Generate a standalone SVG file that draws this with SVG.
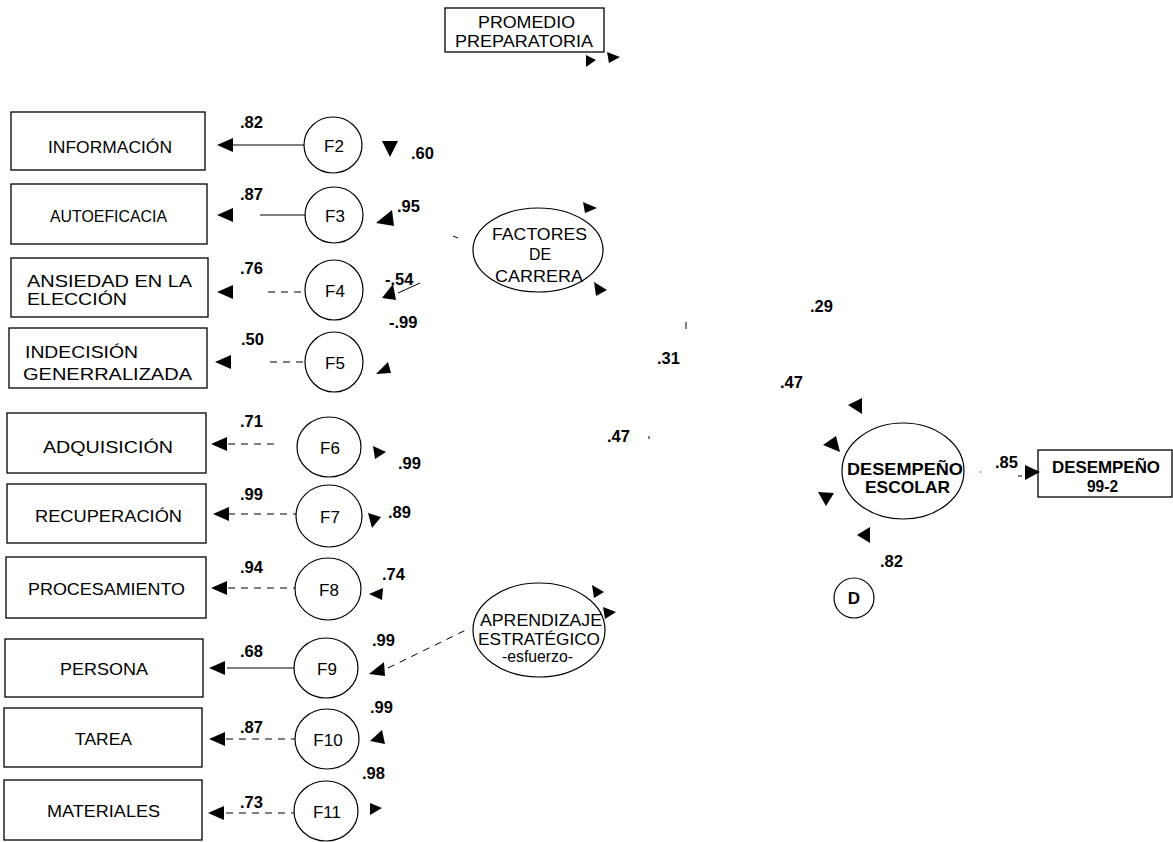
<svg xmlns="http://www.w3.org/2000/svg" width="1173" height="842" viewBox="0 0 1173 842">
<style>
.box{fill:#fff;stroke:#000;stroke-width:1.3}
.lat{fill:#fff;stroke:#000;stroke-width:1.2}
.t{font-family:"Liberation Sans",Arial,sans-serif;font-size:16.5px;fill:#000}
.tb{font-family:"Liberation Sans",Arial,sans-serif;font-size:17px;font-weight:bold;fill:#000}
.f{font-family:"Liberation Sans",Arial,sans-serif;font-size:17px;fill:#000}
.n{font-family:"Liberation Sans",Arial,sans-serif;font-size:16.5px;font-weight:bold;fill:#000}
.ln{stroke:#000;stroke-width:1;fill:none}
.dl{stroke:#000;stroke-width:1;fill:none;stroke-dasharray:7 6}
.ah{fill:#000}
</style>
<rect width="1173" height="842" fill="#fff"/>

<g id="promedio">
<rect class="box" x="445" y="8" width="159" height="44"/>
<text class="t" x="478" y="28" textLength="97" lengthAdjust="spacingAndGlyphs">PROMEDIO</text>
<text class="t" x="455" y="47" textLength="138" lengthAdjust="spacingAndGlyphs">PREPARATORIA</text>
</g>

<g id="informacion"><rect class="box" x="11" y="112" width="194" height="58"/><text class="t" x="48" y="153" textLength="124" lengthAdjust="spacingAndGlyphs">INFORMACIÓN</text></g>
<g id="autoeficacia"><rect class="box" x="11" y="184" width="196" height="60"/><text class="t" x="50" y="222" textLength="117" lengthAdjust="spacingAndGlyphs">AUTOEFICACIA</text></g>
<g id="ansiedad"><rect class="box" x="11" y="258" width="197" height="59"/><text class="t" x="27" y="287" font-size="19" textLength="165" lengthAdjust="spacingAndGlyphs">ANSIEDAD EN LA</text><text class="t" x="27" y="305" font-size="19" textLength="100" lengthAdjust="spacingAndGlyphs">ELECCIÓN</text></g>
<g id="indecision"><rect class="box" x="9" y="328" width="198" height="60"/><text class="t" x="25" y="358" font-size="19" textLength="113" lengthAdjust="spacingAndGlyphs">INDECISIÓN</text><text class="t" x="23" y="380" font-size="19" textLength="169" lengthAdjust="spacingAndGlyphs">GENERRALIZADA</text></g>
<g id="adquisicion"><rect class="box" x="7" y="413" width="199" height="60"/><text class="t" x="43" y="453" font-size="17.5" textLength="130" lengthAdjust="spacingAndGlyphs">ADQUISICIÓN</text></g>
<g id="recuperacion"><rect class="box" x="7" y="484" width="199" height="59"/><text class="t" x="35" y="522" textLength="147" lengthAdjust="spacingAndGlyphs">RECUPERACIÓN</text></g>
<g id="procesamiento"><rect class="box" x="6" y="557" width="200" height="61"/><text class="t" x="28" y="595" textLength="157" lengthAdjust="spacingAndGlyphs">PROCESAMIENTO</text></g>
<g id="persona"><rect class="box" x="5" y="639" width="198" height="58"/><text class="t" x="60" y="675" textLength="88" lengthAdjust="spacingAndGlyphs">PERSONA</text></g>
<g id="tarea"><rect class="box" x="4" y="708" width="198" height="59"/><text class="t" x="75" y="745" textLength="57" lengthAdjust="spacingAndGlyphs">TAREA</text></g>
<g id="materiales"><rect class="box" x="4" y="780" width="198" height="60"/><text class="t" x="47" y="817" textLength="113" lengthAdjust="spacingAndGlyphs">MATERIALES</text></g>

<g id="F2"><ellipse class="lat" cx="333" cy="145" rx="29" ry="28"/><text class="f" x="334" y="152" text-anchor="middle">F2</text></g>
<g id="F3"><ellipse class="lat" cx="334" cy="215" rx="29" ry="28"/><text class="f" x="335" y="222" text-anchor="middle">F3</text></g>
<g id="F4"><ellipse class="lat" cx="334" cy="290" rx="29" ry="30"/><text class="f" x="335" y="297" text-anchor="middle">F4</text></g>
<g id="F5"><ellipse class="lat" cx="334" cy="362" rx="29" ry="30"/><text class="f" x="335" y="369" text-anchor="middle">F5</text></g>
<g id="F6"><ellipse class="lat" cx="329" cy="447" rx="32" ry="30"/><text class="f" x="330" y="454" text-anchor="middle">F6</text></g>
<g id="F7"><ellipse class="lat" cx="329" cy="516" rx="33" ry="31"/><text class="f" x="330" y="523" text-anchor="middle">F7</text></g>
<g id="F8"><ellipse class="lat" cx="328" cy="589" rx="33" ry="31"/><text class="f" x="329" y="596" text-anchor="middle">F8</text></g>
<g id="F9"><ellipse class="lat" cx="326" cy="668" rx="32" ry="30"/><text class="f" x="327" y="675" text-anchor="middle">F9</text></g>
<g id="F10"><ellipse class="lat" cx="327" cy="739" rx="32" ry="30"/><text class="f" x="328" y="746" text-anchor="middle">F10</text></g>
<g id="F11"><ellipse class="lat" cx="326" cy="811" rx="32" ry="30"/><text class="f" x="327" y="818" text-anchor="middle">F11</text></g>

<g id="factores"><ellipse class="lat" cx="538" cy="250" rx="65" ry="42"/>
<text class="t" x="492" y="240" font-size="17.5" textLength="95" lengthAdjust="spacingAndGlyphs">FACTORES</text>
<text class="t" x="529" y="260" font-size="17.5" textLength="22" lengthAdjust="spacingAndGlyphs">DE</text>
<text class="t" x="495" y="282" font-size="17.5" textLength="88" lengthAdjust="spacingAndGlyphs">CARRERA</text></g>

<g id="aprendizaje"><ellipse class="lat" cx="539" cy="630" rx="66" ry="47"/>
<text class="t" x="480" y="626" textLength="122" lengthAdjust="spacingAndGlyphs">APRENDIZAJE</text>
<text class="t" x="478" y="645" textLength="122" lengthAdjust="spacingAndGlyphs">ESTRATÉGICO</text>
<text class="t" x="502" y="662" font-size="13" textLength="71" lengthAdjust="spacingAndGlyphs">-esfuerzo-</text></g>

<g id="desempeno"><ellipse class="lat" cx="903" cy="471" rx="61" ry="48"/>
<text class="tb" x="847" y="475" textLength="116" lengthAdjust="spacingAndGlyphs">DESEMPEÑO</text>
<text class="tb" x="865" y="493" textLength="85" lengthAdjust="spacingAndGlyphs">ESCOLAR</text></g>

<g id="D"><ellipse class="lat" cx="854" cy="598" rx="20" ry="20"/><text class="tb" x="854" y="604" text-anchor="middle">D</text></g>

<g id="desempeno992"><rect class="box" x="1038" y="450" width="134" height="47"/>
<text class="tb" x="1052" y="473" textLength="108" lengthAdjust="spacingAndGlyphs">DESEMPEÑO</text>
<text class="tb" x="1087" y="492" textLength="31" lengthAdjust="spacingAndGlyphs">99-2</text></g>

<g id="connectors">
<line class="ln" x1="233" y1="145" x2="304" y2="145"/>
<line class="ln" x1="260" y1="215" x2="305" y2="215"/>
<line class="dl" x1="268" y1="292" x2="305" y2="292"/>
<line class="dl" x1="270" y1="362" x2="305" y2="362"/>
<line class="dl" x1="228" y1="444" x2="275" y2="444"/>
<line class="dl" x1="228" y1="514" x2="296" y2="514"/>
<line class="dl" x1="228" y1="588" x2="295" y2="588"/>
<line class="ln" x1="227" y1="668" x2="294" y2="668"/>
<line class="dl" x1="226" y1="739" x2="295" y2="739"/>
<line class="dl" x1="226" y1="813" x2="294" y2="813"/>
<line class="dl" x1="388" y1="668" x2="470" y2="628"/>
<line class="ln" x1="398" y1="293" x2="420" y2="283"/>
<line class="ln" x1="453" y1="236" x2="458" y2="238"/>
<line class="ln" x1="686" y1="322" x2="686" y2="329"/>
<line class="ln" x1="649" y1="436" x2="649" y2="439"/>
<line class="ln" x1="980" y1="472" x2="981" y2="472"/>
<line class="ln" x1="1018" y1="476" x2="1022" y2="476"/>

<polygon class="ah" points="217,145 233,138 233,152"/>
<polygon class="ah" points="217,215 233,208 233,222"/>
<polygon class="ah" points="217,292 233,285 233,299"/>
<polygon class="ah" points="215,362 231,355 231,369"/>
<polygon class="ah" points="211,444 227,437 227,451"/>
<polygon class="ah" points="213,514 229,507 229,521"/>
<polygon class="ah" points="211,588 227,581 227,595"/>
<polygon class="ah" points="209,668 225,661 225,675"/>
<polygon class="ah" points="209,739 225,732 225,746"/>
<polygon class="ah" points="208,813 224,806 224,820"/>

<polygon class="ah" points="382,141 398,141 390,157"/>
<polygon class="ah" points="376,223 392,210 394,226"/>
<polygon class="ah" points="382,298 393,284 396,300"/>
<polygon class="ah" points="376,374 388,362 391,373"/>
<polygon class="ah" points="373,446 386,452 375,459"/>
<polygon class="ah" points="368,513 381,517 372,528"/>
<polygon class="ah" points="369,594 383,588 382,600"/>
<polygon class="ah" points="369,674 384,662 385,676"/>
<polygon class="ah" points="370,741 382,730 385,744"/>
<polygon class="ah" points="370,803 382,808 370,815"/>

<polygon class="ah" points="583,202 597,208 585,213"/>
<polygon class="ah" points="594,282 607,290 596,296"/>
<polygon class="ah" points="592,585 604,592 594,598"/>
<polygon class="ah" points="603,607 616,612 605,619"/>
<polygon class="ah" points="586,55 596,60 586,67"/>
<polygon class="ah" points="607,52 620,57 609,63"/>

<polygon class="ah" points="848,405 862,398 862,414"/>
<polygon class="ah" points="823,445 836,436 840,452"/>
<polygon class="ah" points="818,492 834,493 826,506"/>
<polygon class="ah" points="857,535 870,527 870,543"/>
<polygon class="ah" points="1025,465 1040,472 1025,480"/>
</g>

<g id="labels">
<text class="n" x="240" y="128">.82</text>
<text class="n" x="411" y="159">.60</text>
<text class="n" x="240" y="200">.87</text>
<text class="n" x="397" y="212">.95</text>
<text class="n" x="240" y="274">.76</text>
<text class="n" x="385" y="285">-.54</text>
<text class="n" x="389" y="328">-.99</text>
<text class="n" x="241" y="345">.50</text>
<text class="n" x="240" y="427">.71</text>
<text class="n" x="398" y="469">.99</text>
<text class="n" x="240" y="500">.99</text>
<text class="n" x="388" y="518">.89</text>
<text class="n" x="240" y="573">.94</text>
<text class="n" x="382" y="580">.74</text>
<text class="n" x="240" y="657">.68</text>
<text class="n" x="372" y="646">.99</text>
<text class="n" x="240" y="733">.87</text>
<text class="n" x="370" y="713">.99</text>
<text class="n" x="240" y="808">.73</text>
<text class="n" x="362" y="779">.98</text>
<text class="n" x="810" y="312">.29</text>
<text class="n" x="657" y="364">.31</text>
<text class="n" x="780" y="388">.47</text>
<text class="n" x="607" y="442">.47</text>
<text class="n" x="995" y="468">.85</text>
<text class="n" x="880" y="567">.82</text>
</g>
</svg>
